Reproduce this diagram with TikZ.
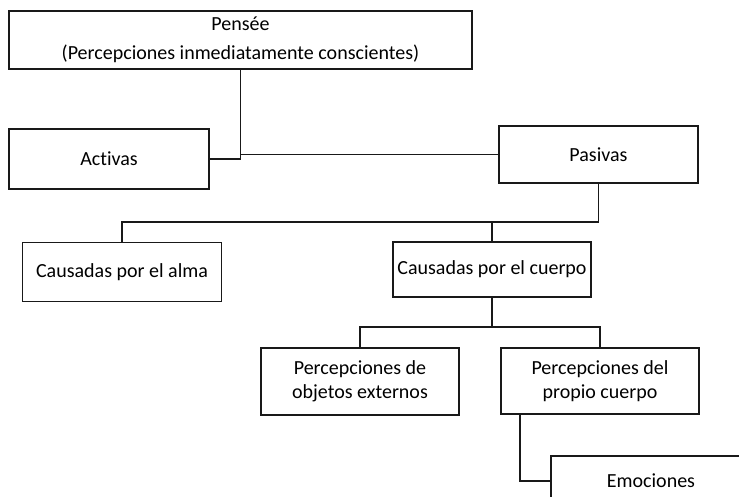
\documentclass[tikz,border=0pt]{standalone}
\usepackage{fontspec}
\setmainfont{Carlito}[Ligatures=NoCommon]
\begin{document}
\begin{tikzpicture}[x=1pt,y=-1pt,
  box/.style={draw=black!90, line width=1.4pt, rectangle, inner sep=0pt, align=center,
    font=\fontsize{20}{24}\selectfont},
  link/.style={draw=black!90, line width=1.7pt}]
\useasboundingbox (0,0) rectangle (739,497);
\clip (0,0) rectangle (739,497);
\node[box, minimum width=463pt, minimum height=58pt] (pensee) at (240.5,40)
  {Pensée\\[5pt](Percepciones inmediatamente conscientes)};
\node[box, minimum width=200pt, minimum height=60pt] (activas) at (109,159) {Activas};
\node[box, minimum width=199pt, minimum height=57pt] (pasivas) at (598.5,154.5) {Pasivas};
\node[box, minimum width=199pt, minimum height=59pt] (alma) at (122,272) {Causadas por el alma};
\node[box, minimum width=198pt, minimum height=55pt] (cuerpo) at (492,269.5) {Causadas por el cuerpo};
\node[box, minimum width=198pt, minimum height=67pt] (objetos) at (360,381.5) {Percepciones de\\objetos externos};
\node[box, minimum width=198pt, minimum height=66pt] (propio) at (600,381) {Percepciones del\\propio cuerpo};
\node[box, minimum width=200pt, minimum height=50pt] (emociones) at (651,481) {Emociones};
\coordinate (bus1) at (0,222);
\coordinate (bus2) at (0,327);
\coordinate (drop) at ([xshift=20pt]propio.south west);
\draw[link] (pensee.south) |- (activas.east);
\draw[link] (pensee.south) |- (pasivas.west);
\draw[link] (pasivas.south) |- (bus1 -| alma.north) -- (alma.north);
\draw[link] (cuerpo.north) -- (cuerpo.north |- bus1);
\draw[link] (cuerpo.south) |- (bus2 -| objetos.north) -- (objetos.north);
\draw[link] (cuerpo.south |- bus2) -| (propio.north);
\draw[link] (drop) |- (emociones.west);
\end{tikzpicture}
\end{document}
